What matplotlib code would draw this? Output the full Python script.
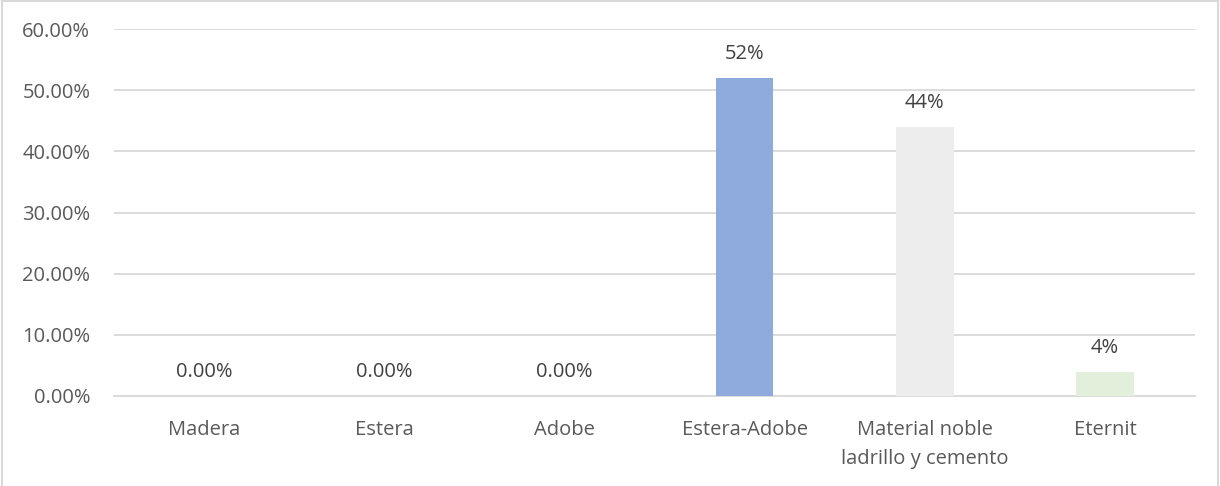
import matplotlib
matplotlib.use("Agg")
import matplotlib.pyplot as plt
from matplotlib.patches import Rectangle
from matplotlib.ticker import FuncFormatter

categories = ["Madera", "Estera", "Adobe", "Estera-Adobe",
              "Material noble\nladrillo y cemento", "Eternit"]
values = [0.0, 0.0, 0.0, 52.0, 44.0, 4.0]
value_labels = ["0.00%", "0.00%", "0.00%", "52%", "44%", "4%"]
bar_colors = ["#8FAADC", "#8FAADC", "#8FAADC", "#8FAADC", "#EDEDED", "#E2EFDA"]
y_ticks = [0, 10, 20, 30, 40, 50, 60]

text_color = "#595959"
grid_color = "#D9D9D9"

plt.rcParams["font.family"] = ["Open Sans", "DejaVu Sans"]

fig = plt.figure(figsize=(12.2, 4.86), dpi=100)
ax = fig.add_axes([0.0934, 0.1852, 0.8861, 0.7551])

x = list(range(len(categories)))
ax.bar(x, values, width=0.32, color=bar_colors, zorder=3)

for xi, v, lab in zip(x, values, value_labels):
    ax.annotate(lab, (xi, v), xytext=(0, 10), textcoords="offset points",
                ha="center", va="bottom", fontsize=14.5, color="#404040")

ax.set_xlim(-0.5, len(categories) - 0.5)
ax.set_ylim(0, 60)
ax.set_yticks(y_ticks)
ax.yaxis.set_major_formatter(FuncFormatter(lambda v, p: f"{v:.2f}%"))
ax.set_xticks(x)
ax.set_xticklabels(categories, linespacing=1.6)

ax.grid(axis="y", color=grid_color, linewidth=1.3, zorder=0)
for side in ["top", "right", "left"]:
    ax.spines[side].set_visible(False)
ax.spines["bottom"].set_color(grid_color)
ax.spines["bottom"].set_linewidth(1.3)
ax.tick_params(axis="both", length=0, labelsize=14.5, colors=text_color)
ax.tick_params(axis="y", pad=17)
ax.tick_params(axis="x", pad=17)

fig.patches.append(Rectangle((0.002, -0.01), 0.996, 1.008, transform=fig.transFigure,
                             fill=False, edgecolor=grid_color, linewidth=1.5))

fig.savefig("out.png", dpi=100)
